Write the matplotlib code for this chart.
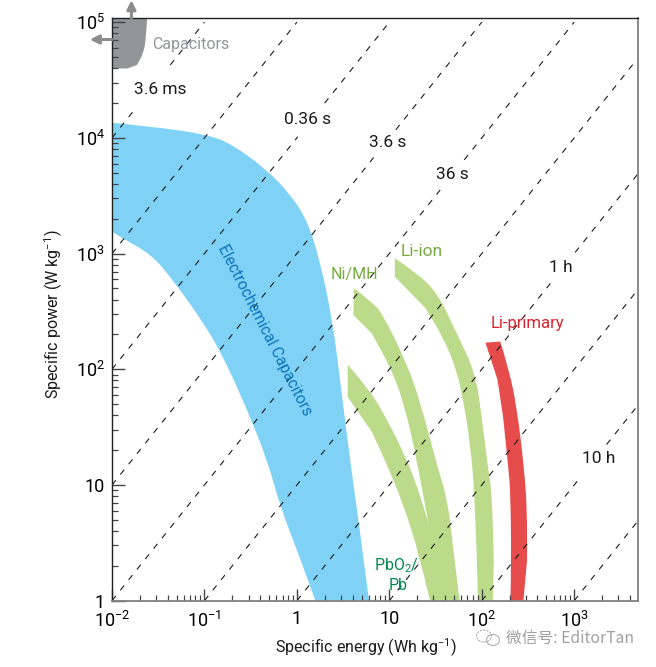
import matplotlib
matplotlib.use('Agg')
import matplotlib.pyplot as plt
import numpy as np
from matplotlib.patches import Ellipse, PathPatch
from matplotlib.path import Path

plt.rcParams['font.family'] = ['Roboto', 'Liberation Sans', 'DejaVu Sans']
plt.rcParams['mathtext.default'] = 'regular'

# all outlines as log10(energy), log10(power)
capacitors_e = [-2.00, -1.62, -1.63, -1.66, -1.73, -1.83, -2.00]
capacitors_p = [5.04, 5.04, 4.87, 4.73, 4.63, 4.60, 4.60]

echem_e = [-2.00, -1.59, -0.97, -0.69, -0.32, -0.07, 0.11, 0.25, 0.39, 0.48, 0.58, 0.68, 0.78,
           0.20, 0.03, -0.18, -0.32, -0.56, -0.78, -0.99, -1.34, -1.57, -1.88, -2.00]
echem_p = [4.13, 4.10, 4.03, 3.94, 3.72, 3.51, 3.29, 2.94, 2.40, 1.82, 1.19, 0.61, 0.00,
           0.00, 0.38, 0.81, 1.22, 1.69, 2.08, 2.38, 2.77, 2.99, 3.13, 3.19]

liion_e = [1.06, 1.30, 1.52, 1.73, 1.93, 2.00, 2.07, 2.11, 2.13, 2.12,
           1.96, 1.93, 1.87, 1.80, 1.73, 1.58, 1.39, 1.06]
liion_p = [2.96, 2.83, 2.66, 2.31, 1.97, 1.59, 1.13, 0.93, 0.35, 0.00,
           0.00, 0.87, 1.39, 1.73, 1.99, 2.28, 2.53, 2.80]

nimh_e = [0.62, 0.81, 0.92, 1.19, 1.33, 1.53, 1.63, 1.69, 1.76,
          1.50, 1.42, 1.30, 1.15, 1.01, 0.81, 0.61]
nimh_p = [2.70, 2.58, 2.49, 2.05, 1.73, 1.13, 0.87, 0.46, 0.00,
          0.00, 0.68, 1.22, 1.73, 2.02, 2.31, 2.47]

pb_e = [0.55, 0.79, 0.98, 1.19, 1.31, 1.42, 1.60, 1.44, 1.33, 1.15, 0.95, 0.81, 0.55]
pb_p = [2.04, 1.82, 1.56, 1.22, 0.96, 0.68, 0.00, 0.00, 0.38, 0.84, 1.22, 1.46, 1.76]

liprim_e = [2.04, 2.20, 2.29, 2.38, 2.46, 2.49, 2.49, 2.45, 2.31, 2.32, 2.31, 2.29, 2.23, 2.17]
liprim_p = [2.23, 2.24, 2.01, 1.67, 1.13, 0.78, 0.35, 0.00, 0.00, 0.35, 0.93, 1.13, 1.59, 1.91]

# constant time lines: log10(P/E), and the log10(P) range left open for a label
line_ratio = [6, 5, 4, 3, 2, 1, 0, -1, -2, -3]
line_gap = {6: (4.27, 4.63), 4: (4.01, 4.30), 3: (3.83, 4.07), 2: (3.55, 3.81), 0: (2.75, 3.01), -2: (1.08, 1.35)}

x_ticks = [-2, -1, 0, 1, 2, 3]
x_labels = ['$10^{-2}$', '$10^{-1}$', '1', '10', '$10^{2}$', '$10^{3}$']
y_ticks = [0, 1, 2, 3, 4, 5]
y_labels = ['1', '10', '$10^{2}$', '$10^{3}$', '$10^{4}$', '$10^{5}$']

xmin, xmax = -2, 3.69
ymin, ymax = 0, 5.036

fig = plt.figure(figsize=(6.56, 6.67), dpi=100)
ax = fig.add_axes([112/656, 1-600.7/667, (638-112)/656, (600.7-18)/667])
ax.set_xscale('log')
ax.set_yscale('log')
ax.set_xlim(10**xmin, 10**xmax)
ax.set_ylim(10**ymin, 10**ymax)


def shape(e, p, color, corners):
    # sharp at the corners, quadratic curves through the runs between them
    pts = np.column_stack([e, p])
    verts = [pts[0]]
    codes = [Path.MOVETO]
    for a, b in zip(corners, corners[1:] + [len(pts)]):
        for i in range(a + 1, b):
            verts += [pts[i], (pts[i] + pts[(i + 1) % len(pts)]) / 2 if i + 1 < b else pts[i]]
            codes += [Path.CURVE3, Path.CURVE3]
        if b < len(pts):
            verts.append(pts[b])
            codes.append(Path.LINETO)
    verts.append(pts[0])
    codes.append(Path.CLOSEPOLY)
    ax.add_patch(PathPatch(Path(10**np.array(verts), codes), fc=color, ec='none', lw=0, zorder=1))


shape(capacitors_e, capacitors_p, '#939598', [0, 1, 5, 6])
shape(echem_e, echem_p, '#7fd2f6', [0, 12, 13, 23])
shape(liion_e, liion_p, '#bbda8a', [0, 9, 10, 17])
shape(nimh_e, nimh_p, '#bbda8a', [0, 8, 9, 10, 15])
shape(pb_e, pb_p, '#bbda8a', [0, 5, 6, 7, 12])
shape(liprim_e, liprim_p, '#e64c4c', [0, 1, 7, 8, 13])

for k in line_ratio:
    p_lo = max(ymin, xmin + k)
    p_hi = min(5.0, xmax + k)
    if k in line_gap:
        spans = [(p_lo, line_gap[k][0]), (line_gap[k][1], p_hi)]
    else:
        spans = [(p_lo, p_hi)]
    for a, b in spans:
        p = np.array([a, b])
        ax.plot(10**(p-k), 10**p, color='#1a1a1a', lw=0.8, dashes=(5.5, 6.5), zorder=2)

for side in ['left', 'top']:
    ax.spines[side].set_color('#222222')
    ax.spines[side].set_linewidth(1.0)
for side in ['bottom', 'right']:
    ax.spines[side].set_color('#808080')
    ax.spines[side].set_linewidth(1.3)

ax.set_xticks([10.0**v for v in x_ticks])
ax.set_xticklabels(x_labels)
ax.set_yticks([10.0**v for v in y_ticks])
ax.set_yticklabels(y_labels)
ax.xaxis.set_minor_locator(matplotlib.ticker.LogLocator(base=10, subs=np.arange(2, 10), numticks=12))
ax.yaxis.set_minor_locator(matplotlib.ticker.LogLocator(base=10, subs=np.arange(2, 10), numticks=12))
ax.xaxis.set_minor_formatter(matplotlib.ticker.NullFormatter())
ax.yaxis.set_minor_formatter(matplotlib.ticker.NullFormatter())
ax.tick_params(which='major', direction='in', length=9, width=1.0, color='#444444', labelsize=13, pad=5)
ax.tick_params(axis='x', which='major', pad=7)
ax.tick_params(which='minor', direction='in', length=4.5, width=0.9, color='#444444')
for t in ax.get_xticklines() + ax.get_yticklines():
    t.set_zorder(5)

fig.text(366/656, 1-648/667, 'Specific energy (Wh kg$^{-1}$)', ha='center', va='center', fontsize=11.5, color='#1a1a1a')
fig.text(54/656, 1-314/667, 'Specific power (W kg$^{-1}$)', ha='center', va='center', rotation=90, fontsize=11.5, color='#1a1a1a')


def label(e, p, s, color='#1a1a1a', size=12.5, **kw):
    ax.text(10**e, 10**p, s, color=color, fontsize=size, ha='center', va='center', zorder=4, **kw)


label(-1.15, 4.81, 'Capacitors', '#939598', 11.5)
label(-1.48, 4.42, '3.6 ms')
label(0.12, 4.16, '0.36 s')
label(0.98, 3.96, '3.6 s')
label(1.68, 3.68, '36 s')
label(2.86, 2.88, '1 h')
label(3.26, 1.23, '10 h')
label(1.35, 3.02, 'Li-ion', '#76ac3f')
label(0.62, 2.82, 'Ni/MH', '#76ac3f', 11.5)
label(2.49, 2.40, 'Li-primary', '#d9232e', 12)
label(1.08, 0.30, 'PbO$_2$/', '#00894f', 11.5)
label(1.10, 0.13, 'Pb', '#00894f', 11.5)
label(-0.35, 2.34, 'Electrochemical Capacitors', '#0f75bc', 11.2, rotation=-63, rotation_mode='anchor')

arrow = dict(arrowstyle='-|>', color='#8c8c8c', lw=2.2, mutation_scale=13, shrinkA=0, shrinkB=0)
ax.annotate('', xy=(10**-1.79, 10**5.19), xytext=(10**-1.79, 10**5.036), arrowprops=arrow, annotation_clip=False)
ax.annotate('', xy=(10**-2.24, 10**4.85), xytext=(10**-2.0, 10**4.85), arrowprops=arrow, annotation_clip=False)

# watermark in the lower right corner
fig.text(506/656, 1-638/667, '微信号: EditorTan', ha='left', va='center', fontsize=11.3, color='#a0a0a0',
         family=['Noto Sans CJK SC', 'DejaVu Sans'])
fig.add_artist(Ellipse((484/656, 1-636/667), 15/656, 12/667, fill=False, ec='#b0b0b0', lw=0.8, ls=(0, (2, 1))))
fig.add_artist(Ellipse((493/656, 1-640/667), 13/656, 11/667, fill=False, ec='#b0b0b0', lw=0.8))

fig.savefig('out.png', dpi=100)
